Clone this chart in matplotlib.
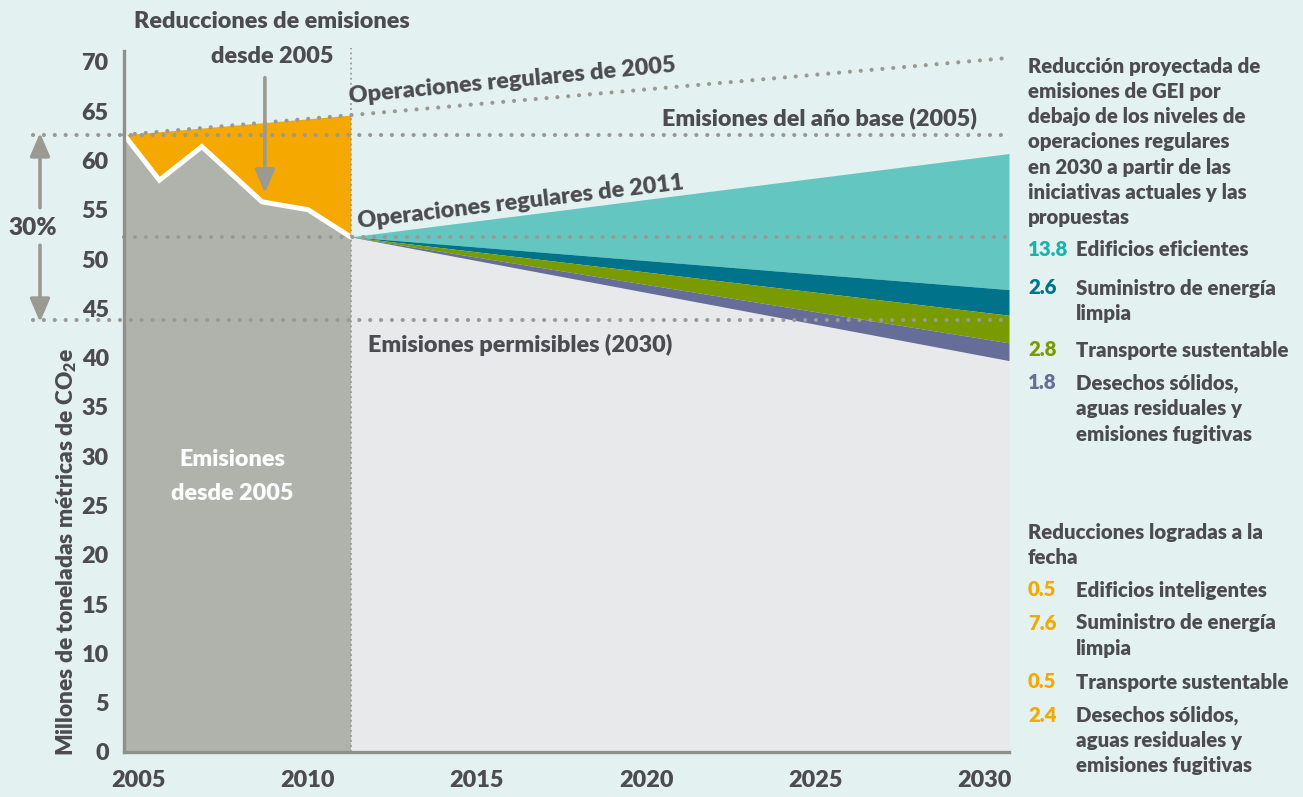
import numpy as np
import matplotlib.pyplot as plt
from matplotlib.transforms import blended_transform_factory

WEIGHT = 'heavy'
plt.rcParams['font.family'] = ['Lato', 'DejaVu Sans']
plt.rcParams['font.weight'] = WEIGHT
plt.rcParams['axes.labelweight'] = WEIGHT
plt.rcParams['mathtext.fontset'] = 'custom'
plt.rcParams['mathtext.rm'] = 'Lato:heavy'
plt.rcParams['mathtext.bf'] = 'Lato:heavy'

# emisiones históricas (Mt CO2e)
hist_years = [2005, 2006, 2007.2, 2008.9, 2010.2, 2011.4]
hist_emis = [62.6, 58.0, 61.4, 55.8, 55.0, 52.25]

# operaciones regulares con tendencia 2005
bau05_years = [2005, 2030]
bau05_emis = [62.6, 70.4]

base_2005 = 62.6
allowed_2030 = 43.8
bau11_years = [2011.4, 2030]
bau11_emis = [52.25, 60.7]

proj_values = [13.8, 2.6, 2.8, 1.8]
proj_labels = ["Edificios eficientes", "Suministro de energía\nlimpia",
               "Transporte sustentable",
               "Desechos sólidos,\naguas residuales y\nemisiones fugitivas"]
proj_colors = ["#63c6c0", "#00738a", "#7a9b00", "#666d98"]
proj_numcolors = ["#1ab3a6", "#00738a", "#7a9b00", "#666d98"]

done_values = [0.5, 7.6, 0.5, 2.4]
done_labels = ["Edificios inteligentes", "Suministro de energía\nlimpia",
               "Transporte sustentable",
               "Desechos sólidos,\naguas residuales y\nemisiones fugitivas"]

x_ticklabels = ["2005", "2010", "2015", "2020", "2025", "2030"]

BG = "#e3f1f1"
TXT = "#4b4b50"
DOT = "#9b9a92"
ORANGE = "#f5a800"
FS = 16.8     # textos del gráfico
LFS = 14.7    # leyenda lateral

W, H = 1303, 797
fig = plt.figure(figsize=(W / 100, H / 100), dpi=100, facecolor=BG)
ax = fig.add_axes([124 / W, 1 - 752 / H, 885 / W, 701 / H])
ax.set_facecolor("none")
ax.set_xlim(2005, 2030)
ax.set_ylim(0, 71.1)


def px(x, y):
    return x / W, 1 - y / H


# área gris histórica y reducciones logradas (naranja)
bau05_at_hist = np.interp(hist_years, bau05_years, bau05_emis)
ax.fill_between(hist_years, 0, hist_emis, color="#afb3ac", lw=0, zorder=1)
ax.fill_between(hist_years, hist_emis, bau05_at_hist, color=ORANGE, lw=0, zorder=1)
ax.plot(hist_years, hist_emis, color="white", lw=3.6, solid_joinstyle="miter", zorder=3)

# cuñas de reducción proyectada
top = np.array(bau11_emis, dtype=float)
for val, col in zip(proj_values, proj_colors):
    low = top.copy()
    low[1] -= val
    ax.fill_between(bau11_years, low, top, color=col, lw=0, zorder=1)
    top = low
ax.fill_between(bau11_years, 0, top, color="#e8e9eb", lw=0, zorder=0.5)

# líneas punteadas de referencia
dot_kw = dict(color=DOT, lw=3.0, linestyle=(0, (0.01, 2.6)),
              dash_capstyle="round", clip_on=False, zorder=4)
bt = blended_transform_factory(ax.transAxes, ax.transData)
x_out = (33 - 124) / 885
ax.plot([x_out, 1], [base_2005, base_2005], transform=bt, **dot_kw)
ax.plot([x_out, 1], [allowed_2030, allowed_2030], transform=bt, **dot_kw)
ax.plot([0, 1], [bau11_emis[0], bau11_emis[0]], transform=bt, **dot_kw)
ax.plot(bau05_years, bau05_emis, **dot_kw)
ax.plot([hist_years[-1], hist_years[-1]], [0, 71.4], color=DOT, lw=1.3,
        linestyle=(0, (1, 1.8)), clip_on=False, zorder=4)

# flechas
arr = dict(arrowstyle="-|>,head_length=0.7,head_width=0.3", color=DOT, lw=2.6,
           shrinkA=0, shrinkB=0, mutation_scale=20)
xa = (40 - 124) / 885
ax.annotate("", xy=(xa, 62.8), xytext=(xa, 55.2), xycoords=bt, textcoords=bt,
            arrowprops=arr, annotation_clip=False)
ax.annotate("", xy=(xa, 43.6), xytext=(xa, 51.4), xycoords=bt, textcoords=bt,
            arrowprops=arr, annotation_clip=False)
ax.annotate("", xy=(2008.98, 56.7), xytext=(2008.98, 68.4),
            arrowprops=arr, annotation_clip=False, zorder=5)

# ejes
for s in ["top", "right"]:
    ax.spines[s].set_visible(False)
for s in ["left", "bottom"]:
    ax.spines[s].set_color("#8f9189")
    ax.spines[s].set_linewidth(2.4)
    ax.spines[s].set_zorder(6)
ax.set_yticks(range(0, 71, 5))
ax.set_xticks(np.linspace(2005.4, 2029.32, 6))
ax.set_xticklabels(x_ticklabels)
ax.tick_params(axis="y", length=0, pad=11, labelsize=16.8, labelcolor=TXT)
ax.tick_params(axis="x", length=0, pad=13, labelsize=16.8, labelcolor=TXT)
ax.set_ylabel(r"Millones de toneladas métricas de CO$_{\mathbf{2}}$e",
              fontsize=16.3, color=TXT)
ax.yaxis.set_label_coords((67 - 124) / 885, (752 - 552) / 701)
ax.yaxis.label.set_va("center")

# textos del gráfico
fig.text(*px(272, 28), "Reducciones de emisiones", ha="center", va="baseline",
         fontsize=FS, color=TXT)
fig.text(*px(272, 63), "desde 2005", ha="center", va="baseline",
         fontsize=FS, color=TXT)
fig.text(*px(350, 103), "Operaciones regulares de 2005", ha="left", va="baseline",
         rotation=5.5, rotation_mode="anchor", fontsize=FS, color=TXT)
fig.text(*px(977, 125), "Emisiones del año base (2005)", ha="right", va="baseline",
         fontsize=FS, color=TXT)
fig.text(*px(359, 228), "Operaciones regulares de 2011", ha="left", va="baseline",
         rotation=6.8, rotation_mode="anchor", fontsize=FS, color=TXT)
fig.text(*px(368, 352), "Emisiones permisibles (2030)", ha="left", va="baseline",
         fontsize=FS, color=TXT)
fig.text(*px(232, 460), "Emisiones", ha="center", va="center",
         fontsize=FS, color="white")
fig.text(*px(232, 493), "desde 2005", ha="center", va="center",
         fontsize=FS, color="white")
fig.text(*px(33, 228), "30%", ha="center", va="center", fontsize=17.5, color=TXT)

# leyenda lateral
LX, NX = 1028, 1076
head1 = ["Reducción proyectada de", "emisiones de GEI por", "debajo de los niveles de",
         "operaciones regulares", "en 2030 a partir de las",
         "iniciativas actuales y las", "propuestas"]
for i, line in enumerate(head1):
    fig.text(*px(LX, 66 + i * 25.3), line, ha="left", va="center",
             fontsize=LFS, color=TXT)
proj_y = [250, 288, 350, 383]
for y, v, lab, c in zip(proj_y, proj_values, proj_labels, proj_numcolors):
    fig.text(*px(LX, y), f"{v}", ha="left", va="center", fontsize=LFS, color=c)
    for j, part in enumerate(lab.split("\n")):
        fig.text(*px(NX, y + j * 25.5), part, ha="left", va="center",
                 fontsize=LFS, color=TXT)

head2 = ["Reducciones logradas a la", "fecha"]
for i, line in enumerate(head2):
    fig.text(*px(LX, 533 + i * 25), line, ha="left", va="center",
             fontsize=LFS, color=TXT)
done_y = [590, 623, 682, 715]
for y, v, lab in zip(done_y, done_values, done_labels):
    fig.text(*px(LX, y), f"{v}", ha="left", va="center", fontsize=LFS, color=ORANGE)
    for j, part in enumerate(lab.split("\n")):
        fig.text(*px(NX, y + j * 25.3), part, ha="left", va="center",
                 fontsize=LFS, color=TXT)

fig.savefig("out.png", dpi=100, facecolor=BG)
